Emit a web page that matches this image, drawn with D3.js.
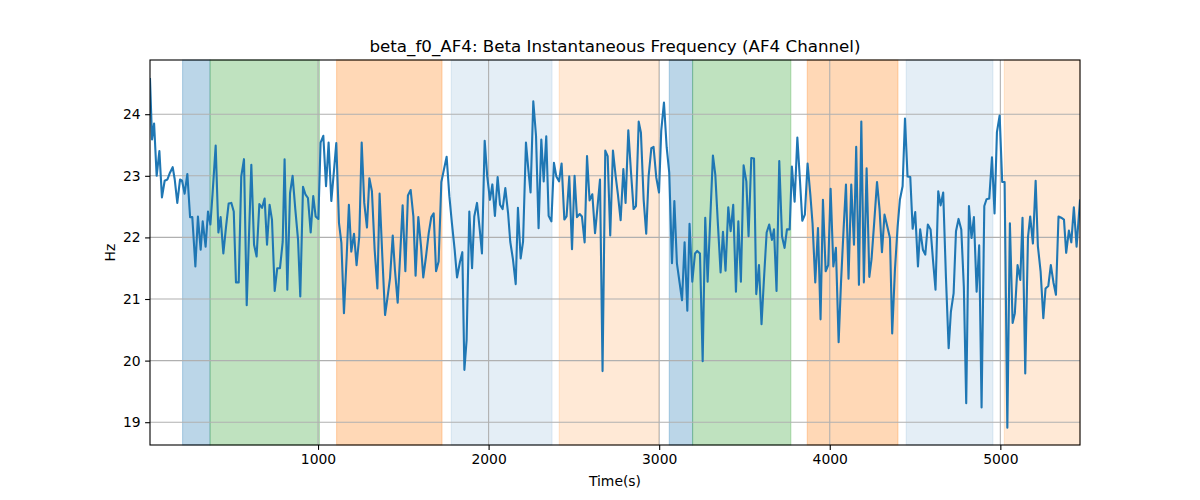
<!DOCTYPE html>
<html>
<head>
<meta charset="utf-8">
<script src="https://cdn.jsdelivr.net/npm/d3@7"></script>
<style>
  html, body { margin: 0; padding: 0; background: #fff; }
  svg { display: block; font-family: "DejaVu Sans", sans-serif; }
</style>
</head>
<body>
<svg id="chart" width="1200" height="500"></svg>
<script>
// ---- data ----
const times = [
  15, 27, 39, 54, 70, 85, 101, 117, 132, 148, 160, 175, 191, 203, 218, 234, 250, 263, 281, 296,
  312, 324, 341, 355, 369, 382, 400, 416, 429, 445, 461, 476, 492, 506, 519, 535, 550, 566, 582,
  609, 625, 640, 656, 672, 687, 701, 716, 730, 746, 761, 777, 793, 804, 820, 836, 851, 867, 883,
  896, 912, 926, 941, 957, 972, 986, 1002, 1015, 1031, 1047, 1062, 1078, 1094, 1107, 1123, 1137,
  1152, 1168, 1181, 1195, 1211, 1226,
  1242, 1256, 1271, 1287, 1301, 1316, 1332, 1348, 1361, 1377, 1393, 1408, 1422, 1438, 1451, 1467,
  1482, 1496, 1512, 1527, 1543, 1559, 1572, 1588, 1604, 1617, 1633, 1649, 1664, 1678, 1692, 1707,
  1723, 1738, 1754, 1770, 1785, 1801, 1815, 1832,
  1846, 1858, 1871, 1887, 1903, 1916, 1932, 1948, 1961, 1977, 1992, 2008, 2022, 2037, 2053, 2067,
  2082, 2098, 2114, 2127, 2143, 2159, 2172, 2188, 2202, 2219, 2233, 2246, 2262, 2278, 2293, 2309,
  2323, 2338, 2352, 2368, 2383, 2397, 2413, 2428, 2444,
  2457, 2473, 2489, 2504, 2518, 2534, 2547, 2563, 2577, 2592, 2608, 2624, 2637, 2653, 2668, 2684,
  2698, 2713, 2729, 2745, 2758, 2774, 2790, 2803, 2819, 2835, 2850, 2864, 2880, 2893, 2909, 2924,
  2938, 2954, 2967, 2983, 2999, 3012, 3028, 3044,
  3059, 3075, 3089, 3104, 3120, 3134, 3149, 3165, 3178, 3194, 3210, 3223, 3239, 3255, 3270, 3284,
  3300, 3315, 3329, 3345, 3360, 3374, 3389, 3405, 3419, 3434, 3450, 3464, 3479, 3495, 3511, 3524,
  3540, 3556, 3569, 3585, 3600, 3614, 3630, 3645, 3661,
  3673, 3688, 3704, 3720, 3735, 3749, 3765, 3778, 3794, 3810, 3825, 3839, 3854, 3870, 3886, 3899,
  3915, 3931, 3946, 3960, 3976, 3991, 4005, 4021, 4036, 4052, 4066, 4081, 4095, 4110, 4126, 4142,
  4155, 4171, 4185, 4200, 4216, 4232, 4245, 4261, 4277,
  4292, 4306, 4321, 4337, 4353, 4366, 4382, 4398, 4411, 4427, 4441, 4456, 4472, 4486, 4501, 4517,
  4530, 4546, 4560, 4575, 4591, 4605, 4620, 4636, 4650, 4665, 4681, 4697, 4710, 4726, 4740, 4755,
  4771, 4786, 4800, 4816, 4831, 4845, 4861, 4876, 4890,
  4906, 4919, 4935, 4951, 4966, 4980, 4996, 5011, 5025, 5041, 5056, 5072, 5085, 5101, 5117, 5130,
  5146, 5162, 5175, 5191, 5207, 5220, 5236, 5252, 5265, 5281, 5296, 5312, 5326, 5341, 5357, 5373,
  5386, 5402, 5416, 5431, 5447, 5467
];
const values = [
  24.57, 23.59, 23.85, 23.0, 23.4, 22.65, 22.92, 22.94, 23.05, 23.14, 22.94, 22.56, 22.94, 22.92, 22.71, 23.03, 22.33, 22.33, 21.53, 22.34,
  21.8, 22.26, 21.85, 22.42, 22.21, 22.72, 23.49, 22.08, 22.33, 21.74, 22.18, 22.55, 22.56, 22.42, 21.27, 21.27, 22.99, 23.27, 20.9,
  23.18, 21.88, 21.69, 22.54, 22.48, 22.63, 21.88, 22.53, 22.29, 21.13, 21.5, 21.5, 21.93, 23.27, 21.15, 22.72, 23.0, 22.45, 21.96,
  21.04, 22.82, 22.7, 22.64, 22.08, 22.67, 22.34, 22.3, 23.54, 23.65, 22.83, 23.54, 22.59, 23.1, 23.53, 22.23, 21.91,
  20.77, 21.69, 22.53, 21.77, 22.06, 21.55,
  22.02, 23.54, 22.56, 22.16, 22.96, 22.75, 21.8, 21.17, 22.71, 21.69, 20.74, 21.04, 21.34, 22.03, 21.47, 20.94,
  21.74, 22.52, 21.45, 22.68, 22.77, 22.34, 21.38, 22.33, 21.85, 21.35, 21.69, 22.07, 22.33, 22.39, 21.45, 21.61,
  22.9, 23.1, 23.31, 22.67, 22.23, 21.8, 21.35, 21.6,
  21.76, 19.85, 20.33, 22.42, 21.5, 22.34, 22.56, 22.13, 21.74, 23.57, 22.99, 22.61, 22.86, 22.35, 22.98, 22.53,
  22.46, 22.8, 22.4, 21.93, 21.64, 21.24, 22.48, 21.66, 21.93, 23.54, 23.1, 22.73, 24.21, 23.65, 22.15, 23.59,
  22.91, 23.64, 22.35, 22.26, 23.21, 22.99, 22.91, 23.2, 22.29,
  22.34, 22.99, 21.81, 23.0, 22.33, 22.38, 22.34, 21.92, 23.32, 22.6, 22.7, 22.07, 22.45, 22.94, 19.83, 23.41,
  23.32, 22.03, 23.41, 22.99, 22.7, 22.28, 23.11, 22.56, 23.74, 23.05, 22.46, 22.51, 23.88, 23.7, 22.61, 22.06,
  22.99, 23.45, 23.47, 22.97, 22.73, 23.73, 24.19, 23.46,
  23.05, 21.58, 22.59, 21.58, 21.26, 20.98, 21.92, 20.81, 22.22, 21.28, 21.74, 21.78, 21.74, 19.99, 22.32, 21.28,
  22.34, 23.33, 23.02, 22.18, 21.43, 22.09, 21.46, 22.49, 22.1, 22.53, 21.12, 22.26, 21.28, 23.17, 22.91, 22.02,
  23.29, 23.28, 21.08, 21.55, 20.59, 21.31, 22.08, 22.21, 21.96,
  22.13, 21.13, 23.24, 22.02, 21.83, 22.13, 22.13, 23.15, 22.58, 23.62, 22.94, 22.27, 22.37, 23.2, 22.7, 22.23,
  21.27, 22.15, 20.67, 22.61, 21.45, 21.55, 22.79, 21.53, 21.83, 20.3, 21.27, 22.13, 22.86, 21.33, 22.86, 21.88,
  23.47, 21.23, 23.88, 21.27, 23.12, 21.36, 21.65, 22.26, 22.9,
  22.45, 21.76, 22.37, 22.18, 21.99, 20.44, 21.47, 22.18, 22.61, 22.83, 23.93, 22.99, 22.98, 22.14, 22.41, 21.53,
  22.13, 21.8, 21.72, 22.21, 22.13, 21.64, 21.15, 22.75, 22.52, 22.73, 21.36, 20.2, 20.79, 21.09, 22.1, 22.3,
  22.13, 21.2, 19.31, 22.51, 21.99, 22.33, 21.12, 21.87, 19.24,
  22.51, 22.62, 22.63, 23.3, 22.39, 23.71, 23.98, 22.9, 22.9, 18.91, 22.23, 20.61, 20.77, 21.55, 21.31, 22.32,
  19.79, 22.0, 22.34, 21.9, 22.92, 21.86, 21.45, 20.69, 21.17, 21.21, 21.55, 21.26, 21.07, 22.34, 22.32, 22.29,
  21.75, 22.11, 21.92, 22.49, 21.85, 22.6
];
const spanStarts = [206, 367, 1109, 1781, 2414, 3059, 3196, 3868, 4448, 5023];
const spanEnds   = [367, 1008, 1727, 2372, 2997, 3196, 3772, 4400, 4957, 5467];
const spanKinds  = ["blueDark", "green", "orange", "blueLight", "orangeLight",
                    "blueDark", "green", "orange", "blueLight", "orangeLight"];
const xTicks = [1000, 2000, 3000, 4000, 5000];
const yTicks = [19, 20, 21, 22, 23, 24];
const titleText = "beta_f0_AF4: Beta Instantaneous Frequency (AF4 Channel)";
const xLabel = "Time(s)";
const yLabel = "Hz";

// ---- styles ----
const spanStyle = {
  blueDark:    { color: "#1f77b4", opacity: 0.3 },
  green:       { color: "#2ca02c", opacity: 0.3 },
  orange:      { color: "#ff7f0e", opacity: 0.3 },
  blueLight:   { color: "#1f77b4", opacity: 0.12 },
  orangeLight: { color: "#ff7f0e", opacity: 0.17 }
};

const margin = { left: 150, right: 120, top: 60, bottom: 55 };
const W = 1200, H = 500;
const iw = W - margin.left - margin.right;   // 930
const ih = H - margin.top - margin.bottom;   // 385

const svg = d3.select("#chart");
const g = svg.append("g").attr("transform", `translate(${margin.left},${margin.top})`);

const x = d3.scaleLinear().domain([d3.min(times), d3.max(times)]).range([0, iw]);
const y = d3.scaleLinear().domain([18.63, 24.88]).range([ih, 0]);

// spans
g.append("g").selectAll("rect")
  .data(spanStarts.map((s, i) => ({ s, e: spanEnds[i], k: spanKinds[i] })))
  .join("rect")
  .attr("x", d => x(d.s))
  .attr("width", d => x(d.e) - x(d.s))
  .attr("y", 0)
  .attr("height", ih)
  .attr("fill", d => spanStyle[d.k].color)
  .attr("fill-opacity", d => spanStyle[d.k].opacity)
  .attr("stroke", d => spanStyle[d.k].color)
  .attr("stroke-opacity", d => spanStyle[d.k].opacity)
  .attr("stroke-width", 1);

// grid
const grid = g.append("g");
grid.selectAll(".gx").data(xTicks).join("line")
  .attr("x1", d => x(d)).attr("x2", d => x(d))
  .attr("y1", 0).attr("y2", ih)
  .attr("stroke", "#b0b0b0").attr("stroke-width", 1.1);
grid.selectAll(".gy").data(yTicks).join("line")
  .attr("y1", d => y(d)).attr("y2", d => y(d))
  .attr("x1", 0).attr("x2", iw)
  .attr("stroke", "#b0b0b0").attr("stroke-width", 1.1);

// line
const line = d3.line().x((d, i) => x(times[i])).y(d => y(d));
g.append("defs").append("clipPath").attr("id", "clip")
  .append("rect").attr("width", iw).attr("height", ih);
g.append("path")
  .datum(values)
  .attr("clip-path", "url(#clip)")
  .attr("d", line)
  .attr("fill", "none")
  .attr("stroke", "#1f77b4")
  .attr("stroke-width", 2.1)
  .attr("stroke-linejoin", "round")
  .attr("stroke-linecap", "square");

// axes
const xAxis = d3.axisBottom(x).tickValues(xTicks).tickSize(4.9).tickPadding(4.5).tickFormat(d3.format("d"));
const yAxis = d3.axisLeft(y).tickValues(yTicks).tickSize(4.9).tickPadding(4.5).tickFormat(d3.format("d"));
const gx = g.append("g").attr("transform", `translate(0,${ih})`).call(xAxis);
const gy = g.append("g").call(yAxis);
[gx, gy].forEach(a => {
  a.select(".domain").remove();
  a.selectAll("line").attr("stroke", "#000").attr("stroke-width", 1.1);
  a.selectAll("text").attr("fill", "#000").style("font-size", "13.9px").style("font-family", "DejaVu Sans, sans-serif");
});

// frame
g.append("rect").attr("width", iw).attr("height", ih)
  .attr("fill", "none").attr("stroke", "#000").attr("stroke-width", 1.1);

// labels
svg.append("text").attr("x", margin.left + iw / 2).attr("y", 52)
  .attr("text-anchor", "middle").style("font-size", "16.7px").text(titleText);
svg.append("text").attr("x", margin.left + iw / 2).attr("y", 486)
  .attr("text-anchor", "middle").style("font-size", "13.9px").text(xLabel);
svg.append("text").attr("transform", `translate(115,${margin.top + ih / 2}) rotate(-90)`)
  .attr("text-anchor", "middle").style("font-size", "13.9px").text(yLabel);
</script>
</body>
</html>
